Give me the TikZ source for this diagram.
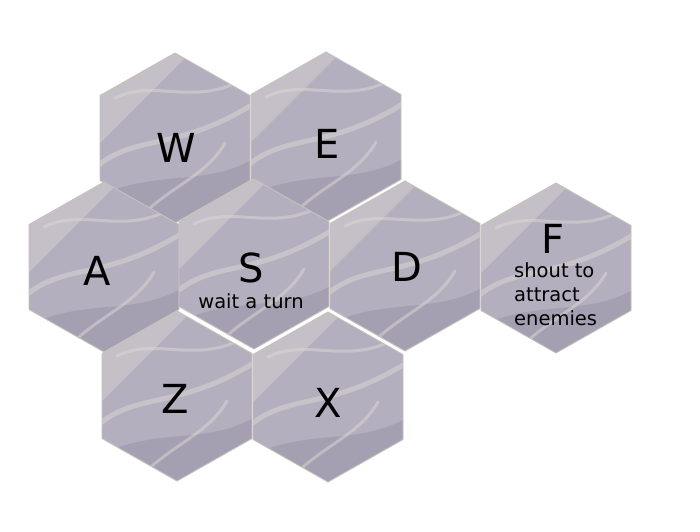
\documentclass[tikz,border=0pt]{standalone}
\usepackage{fontspec}
\setmainfont{DejaVu Sans}

\definecolor{stone}{RGB}{180,175,190}
\definecolor{stonelight}{RGB}{218,213,210}
\definecolor{stonedark}{RGB}{152,147,168}
\definecolor{seam}{RGB}{198,194,188}

\tikzset{
  tile/.style={draw=seam, line width=0.9pt},
  vein/.style={stonelight, line width=5pt, opacity=0.55, line cap=round},
  keyname/.style={font=\fontsize{40}{40}\selectfont, inner sep=0pt},
  keyhint/.style={font=\fontsize{19.5}{24}\selectfont, align=left, inner sep=0pt},
}
% pointy-top hexagon round a centre
\newcommand{\hexpath}[2]{(#1,#2-85) -- (#1+75,#2-42.5) -- (#1+75,#2+42.5) -- (#1,#2+85) -- (#1-75,#2+42.5) -- (#1-75,#2-42.5) -- cycle}

\begin{document}
\begin{tikzpicture}[x=1pt, y=-1pt]
    \useasboundingbox (0,0) rectangle (700,531);
    \foreach \cx/\cy in {175/138, 326/137, 104/267, 254/264, 405/266, 556/268, 177/396, 328/397} {
        \begin{scope}
            \clip \hexpath{\cx}{\cy};
            \fill[stone] (\cx-80,\cy-90) rectangle (\cx+80,\cy+90);
            % marble: light upper left, darker streaks
            \fill[stonelight, opacity=0.45] (\cx-80,\cy-90) -- (\cx+20,\cy-90) -- (\cx-80,\cy+10) -- cycle;
            \fill[stonedark, opacity=0.55] (\cx-80,\cy+60) .. controls (\cx-20,\cy+30) and (\cx+30,\cy+50) .. (\cx+80,\cy+20) -- (\cx+80,\cy+90) -- (\cx-80,\cy+90) -- cycle;
            \draw[vein] (\cx-80,\cy+30) .. controls (\cx-40,\cy-5) and (\cx,\cy+15) .. (\cx+80,\cy-35);
            \draw[vein, line width=3pt] (\cx-60,\cy-40) .. controls (\cx-20,\cy-60) and (\cx+20,\cy-30) .. (\cx+70,\cy-60);
            \draw[vein, line width=3pt] (\cx-40,\cy+85) .. controls (\cx-10,\cy+50) and (\cx+30,\cy+40) .. (\cx+50,\cy+5);
        \end{scope}
        \draw[tile] \hexpath{\cx}{\cy};
    }
    \node[keyname] (keyW) at (176,148) {W};
    \node[keyname] (keyE) at (327,144) {E};
    \node[keyname] (keyA) at (97,271) {A};
    \node[keyname] (keyS) at (251,268) {S};
    \node[keyname] (keyD) at (407,267) {D};
    \node[keyname] (keyF) at (553,239) {F};
    \node[keyname] (keyZ) at (175,399) {Z};
    \node[keyname] (keyX) at (328,403) {X};
    \node[keyhint, anchor=base] (hintS) at (251,308) {wait a turn};
    \node[keyhint, anchor=base west] (hintF) at (514,325) {shout to\\attract\\enemies};
\end{tikzpicture}
\end{document}
